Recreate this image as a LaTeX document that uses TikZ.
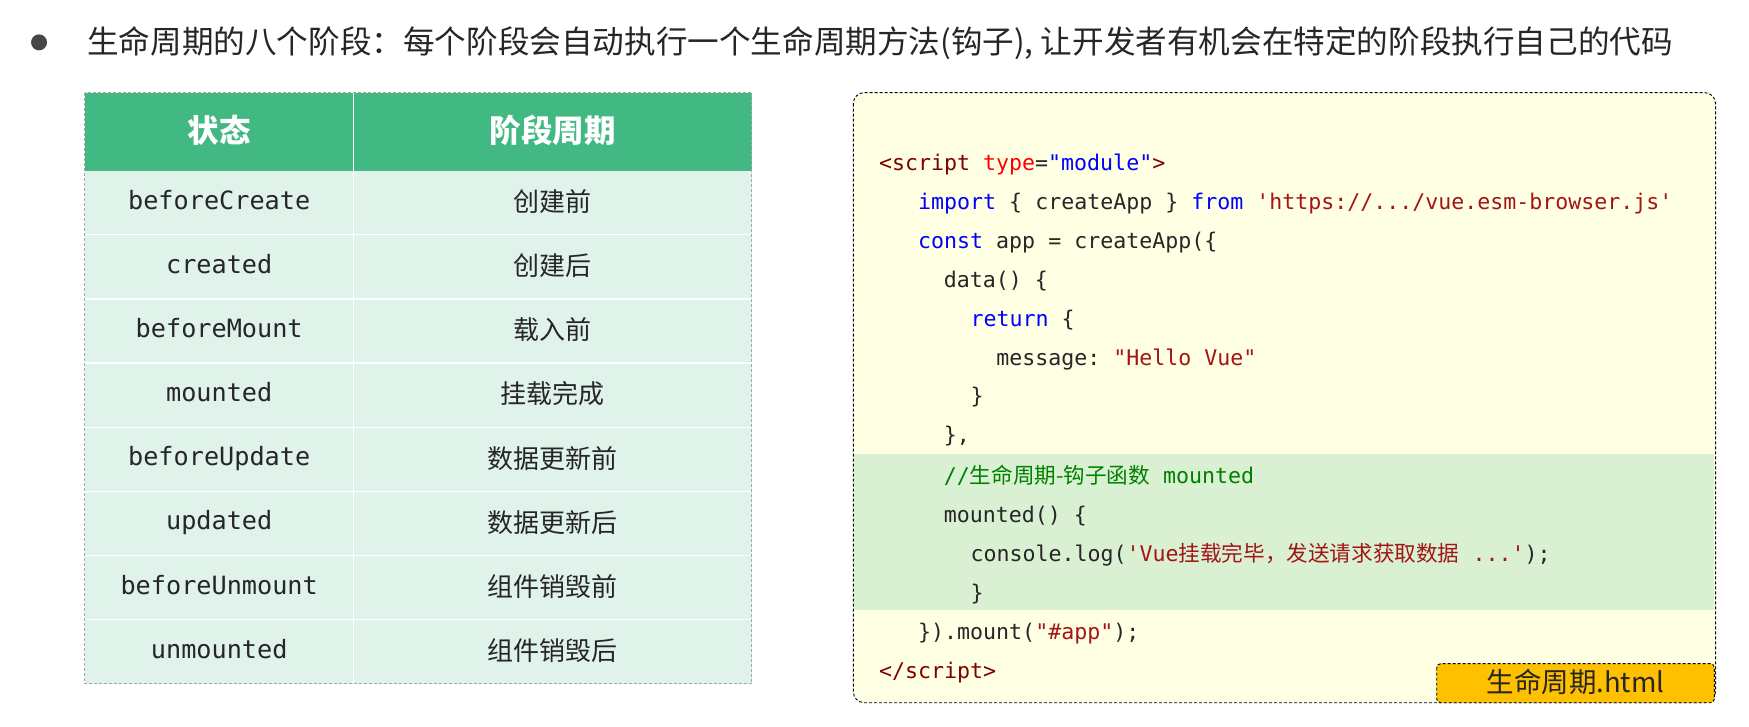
\documentclass[tikz,border=0pt]{standalone}
\usepackage{fontspec}
\setmainfont{Noto Sans CJK SC}
\newfontfamily\cjk{Noto Sans CJK SC}
\newfontfamily\codemono[Ligatures=TeXOff]{DejaVu Sans Mono}
\usetikzlibrary{calc}

\definecolor{vuegreen}{HTML}{42B883}
\definecolor{rowgreen}{HTML}{E0F3EA}
\definecolor{codebg}{HTML}{FFFFE4}
\definecolor{hlgreen}{HTML}{D9F0D3}
\definecolor{tagyellow}{HTML}{FFC000}
\definecolor{ink}{HTML}{262626}
\definecolor{kwblue}{HTML}{0000FF}
\definecolor{tagred}{HTML}{800000}
\definecolor{attrred}{HTML}{FF0000}
\definecolor{strred}{HTML}{A31515}
\definecolor{cmtgreen}{HTML}{008000}

\newcommand{\kw}[1]{{\color{kwblue}#1}}
\newcommand{\tg}[1]{{\color{tagred}#1}}
\newcommand{\at}[1]{{\color{attrred}#1}}
\newcommand{\str}[1]{{\color{strred}#1}}
\newcommand{\cmt}[1]{{\color{cmtgreen}#1}}
\newcommand{\staterow}[5]{ \fill[rowgreen] (76,#2) rectangle (674,#3);
  \node[statetxt] (s#1) at (196.5,{(#2+#3)/2}) {#4};
  \node[phasetxt] (p#1) at (495.5,{(#2+#3)/2}) {#5};}
\newcommand{\codeline}[4]{\node[codetxt] (#1) at (#2,{#3+6.5}) {#4};}

\tikzset{
  statetxt/.style={inner sep=0pt, text=ink, text height=18pt, text depth=5pt, font=\codemono\fontsize{25.2}{30}\selectfont},
  phasetxt/.style={inner sep=0pt, text=ink, text height=20.8pt, text depth=3.1pt, font=\cjk\fontsize{26}{30}\selectfont},
  headtxt/.style={inner sep=0pt, text=white, text height=25.2pt, text depth=3.8pt, font=\cjk\bfseries\fontsize{31.5}{36}\selectfont},
  codetxt/.style={anchor=base west, inner sep=0pt, text=ink, font=\codemono\fontsize{21.6}{26}\selectfont},
  codebox/.style={draw=black, fill=codebg, line width=0.9pt, dash pattern=on 3pt off 2pt, rounded corners=11pt},
  tagbox/.style={draw=black, fill=tagyellow, line width=0.9pt, dash pattern=on 3pt off 2pt, rounded corners=4pt}
}

\begin{document}
\frenchspacing
\begin{tikzpicture}[x=1.11543pt,y=-1.11543pt]
        \useasboundingbox (0,0) rectangle (1568,651);
        % title
        \fill[ink!85] (35,38) circle (8pt);
        \node[anchor=west, inner sep=0pt, text=ink, text height=25.3pt, text depth=3.8pt, font=\cjk\fontsize{31.6}{38}\selectfont] (title) at (78,38) {生命周期的八个阶段：每个阶段会自动执行一个生命周期方法(钩子), 让开发者有机会在特定的阶段执行自己的代码};
        % table head
        \fill[vuegreen] (76,83) rectangle (674,153);
        \node[headtxt] (hs) at (196.5,118) {状态};
        \node[headtxt] (hp) at (495.5,118) {阶段周期};
        % table rows
        \staterow{1}{153}{210.5}{beforeCreate}{创建前}
        \staterow{2}{210.5}{268}{created}{创建后}
        \staterow{3}{268}{325.5}{beforeMount}{载入前}
        \staterow{4}{325.5}{383}{mounted}{挂载完成}
        \staterow{5}{383}{440.5}{beforeUpdate}{数据更新前}
        \staterow{6}{440.5}{498}{updated}{数据更新后}
        \staterow{7}{498}{555.5}{beforeUnmount}{组件销毁前}
        \staterow{8}{555.5}{613}{unmounted}{组件销毁后}
        % white grid lines
        \draw[white, line width=1.3pt] (317,83) -- (317,613);
        \draw[white, line width=1.3pt] (76,210.5) -- (674,210.5) (76,268) -- (674,268) (76,325.5) -- (674,325.5) (76,383) -- (674,383) (76,440.5) -- (674,440.5) (76,498) -- (674,498) (76,555.5) -- (674,555.5);
        \draw[gray!70, line width=0.8pt, dash pattern=on 3pt off 2pt] (76,83) rectangle (674,613);
        % code box
        \fill[codebg, rounded corners=11pt] (765,83) rectangle (1538,630);
        \fill[hlgreen] (766,407) rectangle (1537,547);
        \draw[codebox, fill=none] (765,83) rectangle (1538,630);
        \codeline{l1}{788}{146}{\tg{<script} \at{type}=\kw{"module"}\tg{>}}
        \codeline{l2}{823}{181}{\kw{import} \{ createApp \} \kw{from} \str{'https://.../vue.esm-browser.js'}}
        \codeline{l3}{823}{216}{\kw{const} app = createApp(\{}
        \codeline{l4}{846}{251}{data() \{}
        \codeline{l5}{870}{286}{\kw{return} \{}
        \codeline{l6}{893}{321}{message: \str{"Hello Vue"}}
        \codeline{l7}{870}{355}{\}}
        \codeline{l8}{846}{390}{\},}
        \codeline{l9}{846}{427}{\cmt{//{\cjk 生命周期-钩子函数} mounted}}
        \codeline{l10}{846}{462}{mounted() \{}
        \codeline{l11}{870}{497}{console.log(\str{'Vue{\cjk 挂载完毕，发送请求获取数据} ...'});}
        \codeline{l12}{870}{532}{\}}
        \codeline{l13}{823}{567}{\}).mount(\str{"\#app"});}
        \codeline{l14}{788}{602}{\tg{</script>}}
        % file tag
        \draw[tagbox] (1288,595) rectangle (1537,630);
        \node[inner sep=0pt, text=ink, text height=22pt, text depth=3.3pt, font=\cjk\fontsize{27.5}{32}\selectfont] (tag) at (1412.5,612.5) {生命周期.html};
    \end{tikzpicture}
\end{document}
